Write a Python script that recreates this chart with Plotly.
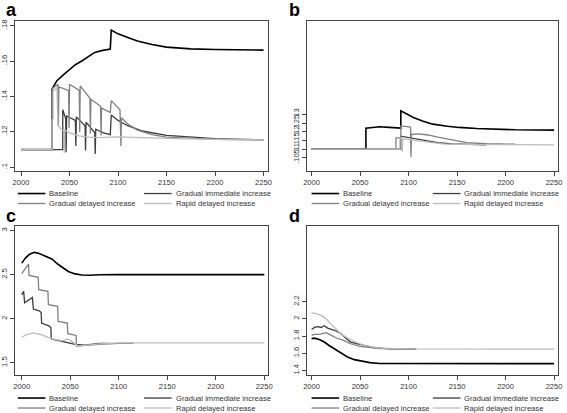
import plotly.graph_objects as go

# ---------------- data ----------------
SERIES_NAMES = ["Baseline", "Gradual immediate increase",
                "Gradual delayed increase", "Rapid delayed increase"]
PANEL_LABELS = ["a", "b", "c", "d"]
X_TICKS = [2000, 2050, 2100, 2150, 2200, 2250]

A_YTICKS = [0.10, 0.12, 0.14, 0.16, 0.18]
A_YTEXT = [".1", ".12", ".14", ".16", ".18"]
B_YTICKS = [0.105, 0.11, 0.115, 0.12, 0.125, 0.13]
B_YTEXT = [".105", ".11", ".115", ".12", ".125", ".13"]
C_YTICKS = [1.5, 2, 2.5, 3]
C_YTEXT = ["1.5", "2", "2.5", "3"]
D_YTICKS = [1.4, 1.6, 1.8, 2, 2.2]
D_YTEXT = ["1.4", "1.6", "1.8", "2", "2.2"]

# panel a
a_base_x = [2000, 2032, 2032, 2037, 2043, 2049, 2056, 2063, 2070, 2076, 2083, 2092, 2093,
            2100, 2110, 2120, 2135, 2150, 2175, 2200, 2250]
a_base_y = [0.110, 0.110, 0.1443, 0.149, 0.152, 0.1546, 0.158, 0.1603, 0.163, 0.165, 0.166,
            0.1669, 0.1776, 0.1755, 0.1735, 0.1715, 0.1695, 0.168, 0.167, 0.1666, 0.1663]
a_gi_x = [2000, 2043, 2043, 2046, 2046.5, 2047, 2056, 2056.5, 2057, 2066, 2066.5, 2067, 2076,
          2076.5, 2077, 2085, 2092, 2093, 2100, 2110, 2125, 2150, 2200, 2250]
a_gi_y = [0.110, 0.110, 0.1325, 0.1275, 0.1085, 0.129, 0.1265, 0.112, 0.1285, 0.1235, 0.1095,
          0.1255, 0.1195, 0.1075, 0.1215, 0.1195, 0.1185, 0.1295, 0.1265, 0.1235, 0.1205,
          0.118, 0.1162, 0.1155]
a_gd_x = [2000, 2032, 2032, 2037, 2038, 2038.5, 2039, 2049, 2049.5, 2050, 2060, 2060.5, 2061,
          2071, 2071.5, 2072, 2082, 2082.5, 2083, 2092, 2093, 2102, 2103, 2103.5, 2110, 2120,
          2135, 2150, 2175, 2200, 2250]
a_gd_y = [0.110, 0.110, 0.1445, 0.1465, 0.147, 0.123, 0.1455, 0.1435, 0.122, 0.147, 0.1435,
          0.120, 0.146, 0.139, 0.119, 0.1385, 0.1345, 0.118, 0.1335, 0.131, 0.1377, 0.1325,
          0.112, 0.128, 0.1245, 0.121, 0.1185, 0.117, 0.1162, 0.1158, 0.1155]
a_rd_x = [2000, 2032, 2032, 2033, 2033, 2037, 2038, 2041, 2044, 2044.5, 2045, 2050, 2060, 2070,
          2080, 2092, 2100, 2125, 2150, 2200, 2250]
a_rd_y = [0.110, 0.110, 0.127, 0.127, 0.143, 0.145, 0.124, 0.1215, 0.1205, 0.108, 0.121,
          0.1195, 0.1178, 0.117, 0.1168, 0.117, 0.1172, 0.1168, 0.1163, 0.1158, 0.1155]

# panel b
b_base_x = [2000, 2056, 2056, 2063, 2070, 2080, 2092, 2092, 2098, 2105, 2115, 2125, 2140,
            2152, 2170, 2186, 2210, 2250]
b_base_y = [0.110, 0.110, 0.1222, 0.1228, 0.1230, 0.1226, 0.1222, 0.1323, 0.1305, 0.1284,
            0.1262, 0.1245, 0.1233, 0.1226, 0.1220, 0.1216, 0.1212, 0.1210]
b_gi_x = [2000, 2092, 2092, 2095, 2100, 2110, 2120, 2130, 2145, 2160, 2180]
b_gi_y = [0.110, 0.110, 0.1175, 0.1172, 0.1168, 0.116, 0.1148, 0.1138, 0.113, 0.1127, 0.1125]
b_gd_x = [2000, 2087, 2087, 2092, 2092, 2097, 2102, 2102.5, 2103, 2110, 2120, 2130, 2145,
          2160, 2180, 2210]
b_gd_y = [0.110, 0.110, 0.1165, 0.1165, 0.1235, 0.1232, 0.1228, 0.1055, 0.1185, 0.1188,
          0.1182, 0.117, 0.1152, 0.1138, 0.1131, 0.1128]
b_rd_x = [2000, 2091, 2091, 2093, 2093.5, 2094, 2100, 2110, 2120, 2135, 2150, 2250]
b_rd_y = [0.110, 0.110, 0.1165, 0.1162, 0.1085, 0.116, 0.1155, 0.1147, 0.1138, 0.113,
          0.1127, 0.1125]

# panel c
c_base_x = [2000, 2004, 2008, 2013, 2018, 2025, 2031, 2037, 2042, 2048, 2055, 2062, 2070,
            2080, 2100, 2250]
c_base_y = [2.63, 2.69, 2.73, 2.752, 2.74, 2.71, 2.677, 2.62, 2.583, 2.535, 2.508, 2.495,
            2.492, 2.498, 2.5, 2.5]
c_gi_x = [2000, 2002, 2003, 2011, 2012, 2018, 2020, 2020.5, 2028, 2030, 2030.5, 2035, 2045,
          2055, 2065, 2080, 2090]
c_gi_y = [2.27, 2.31, 2.18, 2.24, 2.11, 2.09, 2.07, 1.95, 1.92, 1.90, 1.77, 1.76, 1.73,
          1.71, 1.70, 1.72, 1.72]
c_gd_x = [2000, 2007, 2007.5, 2017, 2017.5, 2027, 2027.5, 2037, 2037.5, 2047, 2047.5, 2056,
          2056.5, 2065, 2080, 2100, 2115]
c_gd_y = [2.51, 2.62, 2.49, 2.47, 2.33, 2.31, 2.16, 2.14, 1.97, 1.95, 1.83, 1.81, 1.69,
          1.70, 1.71, 1.72, 1.72]
c_rd_x = [2000, 2005, 2012, 2020, 2032, 2042, 2047, 2052, 2058, 2065, 2080, 2100, 2250]
c_rd_y = [1.79, 1.82, 1.84, 1.82, 1.77, 1.75, 1.77, 1.74, 1.69, 1.70, 1.715, 1.725, 1.725]

# panel d
d_base_x = [2000, 2003, 2008, 2013, 2018, 2023, 2030, 2037, 2044, 2050, 2060, 2070, 2100, 2250]
d_base_y = [1.77, 1.775, 1.76, 1.73, 1.69, 1.653, 1.60, 1.556, 1.525, 1.51, 1.49, 1.48,
            1.48, 1.478]
d_gi_x = [2000, 2003, 2006, 2010, 2013, 2017, 2023, 2030, 2040, 2050, 2064, 2081, 2108]
d_gi_y = [1.876, 1.90, 1.91, 1.90, 1.92, 1.89, 1.87, 1.83, 1.73, 1.70, 1.665, 1.65, 1.648]
d_gd_x = [2000, 2003, 2008, 2013, 2015, 2020, 2025, 2033, 2040, 2050, 2070, 2105]
d_gd_y = [1.807, 1.82, 1.82, 1.835, 1.84, 1.81, 1.78, 1.75, 1.71, 1.68, 1.655, 1.648]
d_rd_x = [2000, 2005, 2010, 2015, 2020, 2030, 2041, 2054, 2070, 2100, 2250]
d_rd_y = [2.07, 2.06, 2.04, 2.00, 1.94, 1.827, 1.75, 1.69, 1.66, 1.65, 1.648]

# ---------------- styling ----------------
W, H = 567, 413
COLORS = ["#000000", "#3c3c3c", "#808080", "#bcbcbc"]
WIDTHS = [1.6, 1.3, 1.3, 1.3]
FONT = "Liberation Sans, Arial, sans-serif"
TXT = "#333333"


def px(x):
    return x / W


def py(y):
    return 1 - y / H


panels = [
    dict(series=[(a_base_x, a_base_y), (a_gi_x, a_gi_y), (a_gd_x, a_gd_y), (a_rd_x, a_rd_y)],
         frame=(12.3, 268.3, 20, 170), xr=[1993.9, 2254.1], yr=[0.0981, 0.1828],
         yt=(A_YTICKS, A_YTEXT), lab=(1.5, 8.7), leg=(15, 143, 193, 203)),
    dict(series=[(b_base_x, b_base_y), (b_gi_x, b_gi_y), (b_gd_x, b_gd_y), (b_rd_x, b_rd_y)],
         frame=(308, 563, 20, 170), xr=[1994.9, 2254.1], yr=[0.0975, 0.1845],
         yt=(B_YTICKS, B_YTEXT), lab=(288, 8.7), leg=(313, 436, 193, 203)),
    dict(series=[(c_base_x, c_base_y), (c_gi_x, c_gi_y), (c_gd_x, c_gd_y), (c_rd_x, c_rd_y)],
         frame=(12.3, 268.3, 225.7, 375), xr=[1993.2, 2253.3], yr=[1.361, 3.049],
         yt=(C_YTICKS, C_YTEXT), lab=(1.5, 215.7), leg=(15, 143, 398, 408)),
    dict(series=[(d_base_x, d_base_y), (d_gi_x, d_gi_y), (d_gd_x, d_gd_y), (d_rd_x, d_rd_y)],
         frame=(308, 563, 225.7, 375), xr=[1994.9, 2254.1], yr=[1.345, 3.08],
         yt=(D_YTICKS, D_YTEXT), lab=(288, 215.7), leg=(313, 436, 398, 408)),
]

fig = go.Figure()
layout = dict(width=W, height=H, margin=dict(l=0, r=0, t=0, b=0),
              paper_bgcolor="white", plot_bgcolor="white", showlegend=False,
              font=dict(family=FONT, size=8, color=TXT))
shapes, annotations = [], []

for i, p in enumerate(panels):
    n = "" if i == 0 else str(i + 1)
    xa, ya = "x" + n, "y" + n
    for k, (sx, sy) in enumerate(p["series"]):
        fig.add_trace(go.Scatter(x=sx, y=sy, mode="lines", name=SERIES_NAMES[k],
                                 xaxis=xa, yaxis=ya,
                                 line=dict(color=COLORS[k], width=WIDTHS[k])))
    l, r, t, b = p["frame"]
    axcommon = dict(showgrid=False, zeroline=False, showline=True, mirror=True,
                    linecolor="#444444", linewidth=1, ticks="outside", ticklen=4,
                    tickwidth=1, tickcolor="#444444",
                    tickfont=dict(family=FONT, size=7.6, color=TXT))
    layout["xaxis" + n] = dict(domain=[px(l), px(r)], range=p["xr"], anchor=ya,
                               tickmode="array", tickvals=X_TICKS,
                               ticktext=[str(v) for v in X_TICKS], **axcommon)
    layout["yaxis" + n] = dict(domain=[py(b), py(t)], range=p["yr"], anchor=xa,
                               tickmode="array", tickvals=p["yt"][0], ticktext=p["yt"][1],
                               tickangle=-90, **axcommon)
    # panel letter
    annotations.append(dict(text="<b>%s</b>" % PANEL_LABELS[i], xref="paper", yref="paper",
                            x=px(p["lab"][0]), y=py(p["lab"][1]), xanchor="left",
                            yanchor="middle", showarrow=False,
                            font=dict(family=FONT, size=18, color="#000000")))
    # legend (manual, two columns)
    c1, c2, r1, r2 = p["leg"]
    slots = [(c1, r1), (c2, r1), (c1, r2), (c2, r2)]
    for k, (lx, ly) in enumerate(slots):
        shapes.append(dict(type="line", xref="paper", yref="paper",
                           x0=px(lx), x1=px(lx + 28), y0=py(ly), y1=py(ly),
                           line=dict(color=COLORS[k], width=WIDTHS[k])))
        annotations.append(dict(text=SERIES_NAMES[k], xref="paper", yref="paper",
                                x=px(lx + 31), y=py(ly), xanchor="left", yanchor="middle",
                                showarrow=False, borderpad=0,
                                font=dict(family=FONT, size=7.6, color=TXT)))

layout["shapes"] = shapes
layout["annotations"] = annotations
fig.update_layout(**layout)
fig.write_html("out.html", config={"displayModeBar": False},
               post_script="document.body.style.margin='0';document.body.style.overflow='hidden';")
